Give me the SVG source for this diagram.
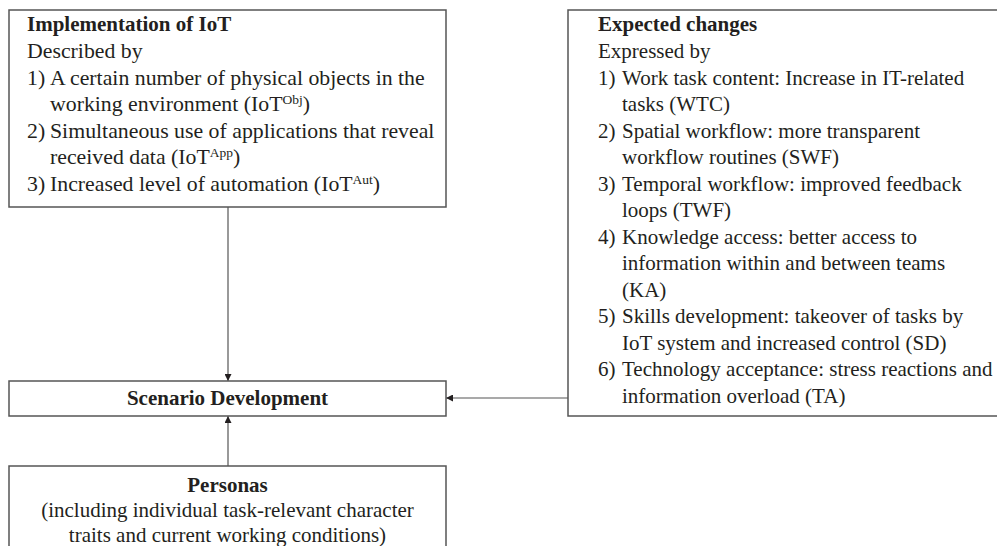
<svg xmlns="http://www.w3.org/2000/svg" width="997" height="546" viewBox="0 0 997 546">
<defs>
<style>
.box{fill:#fff;stroke:#555;stroke-width:1.5}
.t{font-family:"Liberation Serif","Times New Roman",serif;font-size:21px;fill:#231f20}
.l{font-size:21.8px}
.b{font-weight:bold}
.m{text-anchor:middle}
.sup{font-size:13.5px}
.ln{stroke:#555;stroke-width:1.2;fill:none}
</style>
<marker id="ah" viewBox="0 0 10 10" refX="10" refY="5" markerWidth="7" markerHeight="7" markerUnits="userSpaceOnUse" orient="auto">
<path d="M0,0 L10,5 L0,10 z" fill="#231f20"/>
</marker>
</defs>
<rect width="997" height="546" fill="#fff"/>
<g id="connectors">
<line class="ln" x1="228" y1="207" x2="228" y2="381" marker-end="url(#ah)"/>
<line class="ln" x1="228" y1="466" x2="228" y2="416" marker-end="url(#ah)"/>
<line class="ln" x1="568" y1="398" x2="446" y2="398" marker-end="url(#ah)"/>
</g>
<g id="implementation">
<rect class="box" x="9" y="10" width="437" height="197"/>
<text class="t b" x="27" y="31">Implementation of IoT</text>
<text class="t l" x="27" y="58">Described by</text>
<text class="t l" x="27" y="84.5">1)</text>
<text class="t l" x="50" y="84.5">A certain number of physical objects in the</text>
<text class="t l" x="50" y="111">working environment (IoT<tspan class="sup" dy="-7">Obj</tspan><tspan dy="7">)</tspan></text>
<text class="t l" x="27" y="137.5">2)</text>
<text class="t l" x="50" y="137.5">Simultaneous use of applications that reveal</text>
<text class="t l" x="50" y="164">received data (IoT<tspan class="sup" dy="-7">App</tspan><tspan dy="7">)</tspan></text>
<text class="t l" x="27" y="190.5">3)</text>
<text class="t l" x="50" y="190.5">Increased level of automation (IoT<tspan class="sup" dy="-7">Aut</tspan><tspan dy="7">)</tspan></text>
</g>
<g id="expected">
<rect class="box" x="568" y="10" width="435" height="406"/>
<text class="t b" x="598" y="31">Expected changes</text>
<text class="t" x="598" y="58">Expressed by</text>
<text class="t" x="598" y="84.5">1)</text>
<text class="t" x="622" y="84.5">Work task content: Increase in IT-related</text>
<text class="t" x="622" y="111">tasks (WTC)</text>
<text class="t" x="598" y="137.5">2)</text>
<text class="t" x="622" y="137.5">Spatial workflow: more transparent</text>
<text class="t" x="622" y="164">workflow routines (SWF)</text>
<text class="t" x="598" y="190.5">3)</text>
<text class="t" x="622" y="190.5">Temporal workflow: improved feedback</text>
<text class="t" x="622" y="217">loops (TWF)</text>
<text class="t" x="598" y="243.5">4)</text>
<text class="t" x="622" y="243.5">Knowledge access: better access to</text>
<text class="t" x="622" y="270">information within and between teams</text>
<text class="t" x="622" y="296.5">(KA)</text>
<text class="t" x="598" y="323">5)</text>
<text class="t" x="622" y="323">Skills development: takeover of tasks by</text>
<text class="t" x="622" y="349.5">IoT system and increased control (SD)</text>
<text class="t" x="598" y="376">6)</text>
<text class="t" x="622" y="376">Technology acceptance: stress reactions and</text>
<text class="t" x="622" y="402.5">information overload (TA)</text>
</g>
<g id="scenario">
<rect class="box" x="9" y="381" width="437" height="35"/>
<text class="t b m" x="227.5" y="405">Scenario Development</text>
</g>
<g id="personas">
<rect class="box" x="9" y="466" width="437" height="100"/>
<text class="t b m" x="227.5" y="492">Personas</text>
<text class="t m" x="227.5" y="517">(including individual task-relevant character</text>
<text class="t m" x="227.5" y="542">traits and current working conditions)</text>
</g>
</svg>
